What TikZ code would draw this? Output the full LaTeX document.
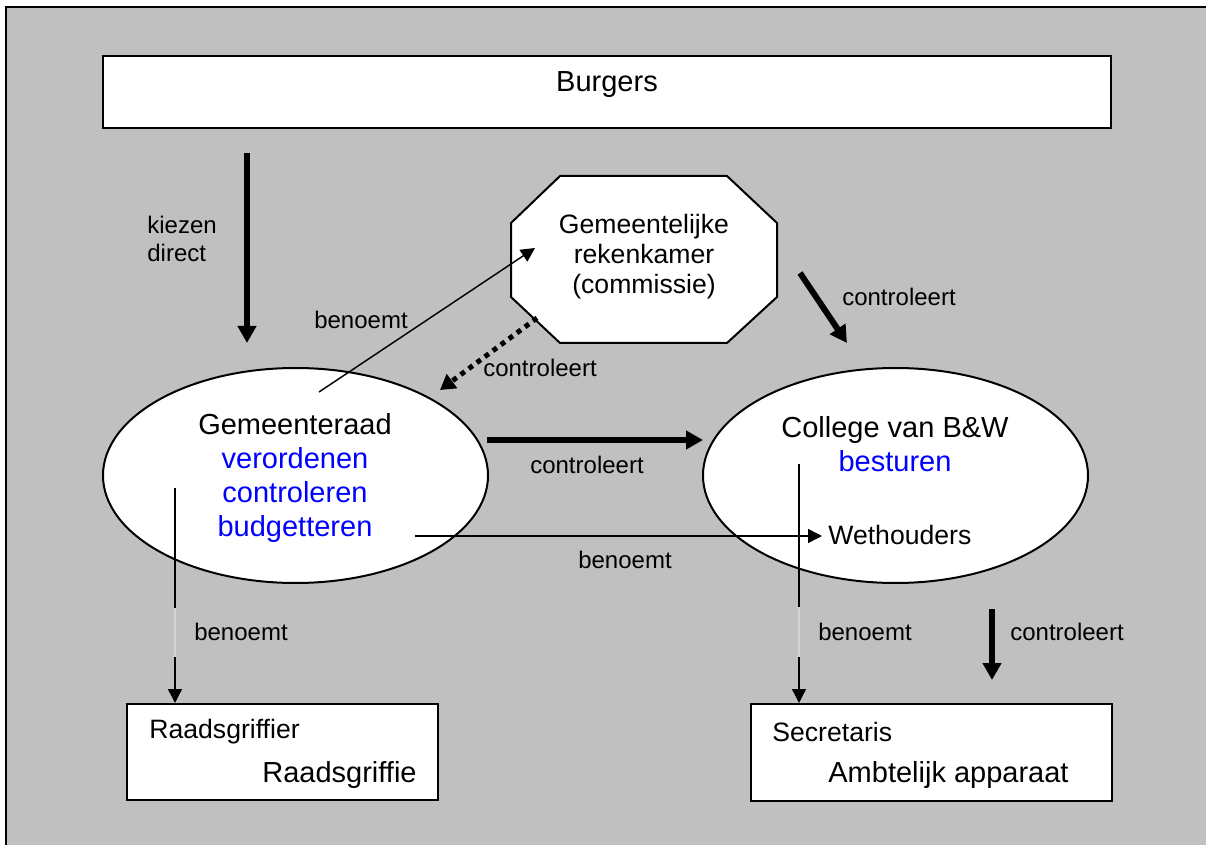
\documentclass[tikz,border=0pt]{standalone}
\usepackage{fontspec}
\setmainfont{Liberation Sans}
\usetikzlibrary{arrows.meta,shapes.geometric}
\definecolor{bg}{HTML}{C0C0C0}
\definecolor{bl}{HTML}{0000FF}
\begin{document}
\begin{tikzpicture}[x=0.5pt,y=-0.5pt,
  box/.style={draw, line width=1pt, fill=white, inner sep=0pt},
  oval/.style={draw, ellipse, line width=1pt, fill=white, inner sep=0pt, minimum width=192.5pt, minimum height=107.5pt},
  lbl/.style={font=\fontsize{12}{14}\selectfont, inner sep=0pt},
  big/.style={font=\fontsize{14.5}{17}\selectfont, inner sep=0pt, align=center},
  mid/.style={font=\fontsize{13.3}{15}\selectfont, inner sep=0pt},
  thickarrow/.style={line width=3pt, -{Triangle[length=8.5pt,width=9pt]}},
  thinarrow/.style={line width=0.7pt, -{Triangle[length=7pt,width=7pt]}},
  dotarrow/.style={line width=2.5pt, dash pattern=on 2.5pt off 2.5pt, -{Triangle[length=7.5pt,width=8.5pt]}},
]
\useasboundingbox (0,0) rectangle (1206,845);
\fill[bg] (6,7) rectangle (1220,860);
\draw[line width=1pt] (6,860) -- (6,7) -- (1220,7);

% Burgers
\node[box, minimum width=504pt, minimum height=36pt] (burg) at (607,92) {};
\node[big] (burgtxt) at (607,85) {Burgers};

% Rekenkamer octagon
\draw[line width=1pt, fill=white] (560,176) -- (727,176) -- (777,223) -- (777,297) -- (727,343) -- (560,343) -- (511,297) -- (511,223) -- cycle;
\node[mid, align=center] (rek) at (644,257) {Gemeentelijke\\rekenkamer\\(commissie)};

% Ellipses
\node[oval] (raad) at (295.5,475.5) {};
\node[big] (raadtxt) at (295,478) {Gemeenteraad\\\textcolor{bl}{verordenen}\\\textcolor{bl}{controleren}\\\textcolor{bl}{budgetteren}};
\node[oval] (coll) at (895.5,475.5) {};
\node[big] (colltxt) at (895,444) {College van B\&W\\\textcolor{bl}{besturen}};
\node[mid, anchor=west] (weth) at (828,535) {Wethouders};

% Bottom boxes
\node[box, minimum width=155.5pt, minimum height=48pt] (griff) at (282.5,752) {};
\node[mid, anchor=west] (griffier) at (149,732) {Raadsgriffier};
\node[big, anchor=west] (griffie) at (262,775) {Raadsgriffie};
\node[box, minimum width=180.5pt, minimum height=48.5pt] (secr) at (931.5,752.5) {};
\node[mid, anchor=west] (secrtxt) at (772,732) {Secretaris};
\node[big, anchor=west] (ambt) at (828,775) {Ambtelijk apparaat};

% Coordinates
\coordinate (k1) at (247,153);
\coordinate (k2) at (247,343);
\coordinate (b1) at (319,392);
\coordinate (b2) at (535,248);
\coordinate (d1) at (537,318);
\coordinate (d2) at (440,390);
\coordinate (c1) at (800,273);
\coordinate (c2) at (847,343);
\coordinate (m1) at (487,440);
\coordinate (m2) at (703,440);
\coordinate (h1) at (415,536);
\coordinate (h2) at (822,536);
\coordinate (l1) at (175,488);
\coordinate (r1) at (799,464);
\coordinate (v1) at (992,609);
\coordinate (v2) at (992,680);

% Connectors
\draw[thickarrow] (k1) -- (k2);
\node[lbl, anchor=west, align=left] (kiezen) at (147,239) {kiezen\\direct};

\draw[thinarrow] (b1) -- (b2);
\node[lbl] (benoemt1) at (361,320) {benoemt};

\draw[dotarrow] (d1) -- (d2);
\node[lbl] (contr1) at (540,368) {controleert};

\draw[thickarrow] (c1) -- (c2);
\node[lbl] (contr2) at (899,297) {controleert};

\draw[thickarrow] (m1) -- (m2);
\node[lbl] (contr3) at (587,465) {controleert};

\draw[thinarrow] (h1) -- (h2);
\node[lbl] (benoemt2) at (625,560) {benoemt};

\draw[thinarrow] (l1) -- (l1 |- griff.north);
\draw[line width=0.7pt, color=bg!70!white] (175,608) -- (175,657);
\node[lbl] (benoemt3) at (241,632) {benoemt};

\draw[thinarrow] (r1) -- (r1 |- secr.north);
\draw[line width=0.7pt, color=bg!70!white] (799,607) -- (799,657);
\node[lbl] (benoemt4) at (865,632) {benoemt};

\draw[thickarrow] (v1) -- (v2);
\node[lbl] (contr4) at (1067,632) {controleert};
\end{tikzpicture}
\end{document}
